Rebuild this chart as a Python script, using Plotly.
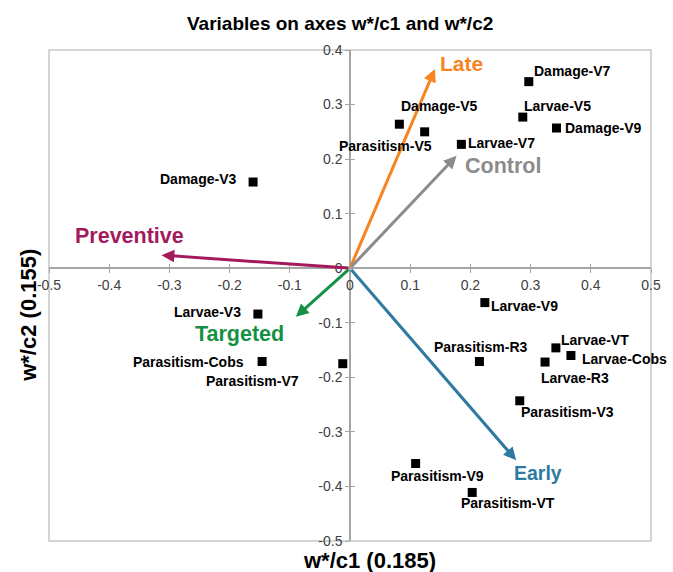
import plotly.graph_objects as go

# Variable coordinates on the first two axes
var_names = [
    "Damage-V3", "Damage-V5", "Parasitism-V5", "Larvae-V7", "Damage-V7",
    "Larvae-V5", "Damage-V9", "Larvae-V3", "Parasitism-Cobs", "Parasitism-V7",
    "Larvae-V9", "Parasitism-R3", "Larvae-VT", "Larvae-Cobs", "Larvae-R3",
    "Parasitism-V3", "Parasitism-V9", "Parasitism-VT",
]
var_c1 = [-0.161, 0.124, 0.082, 0.185, 0.297, 0.287, 0.343, -0.153, -0.146, -0.012,
          0.224, 0.215, 0.342, 0.367, 0.324, 0.282, 0.109, 0.203]
var_c2 = [0.158, 0.250, 0.264, 0.227, 0.342, 0.277, 0.257, -0.084, -0.171, -0.175,
          -0.063, -0.171, -0.146, -0.160, -0.172, -0.243, -0.358, -0.411]

# Label placement (pixel shift of label centre from its marker)
label_dx = [-55, 14, -14, 40, 43, 35, 47, -50, -74, -90, 40, 2, 39, 54, 30, 48, 22, 36]
label_dy = [3, 26, -22, 1, 11, 11, 0, 2, 0, -17, -3, 15, 8, -3, -16, -11, -12, -11]

# Supplementary factor vectors
factor_names = ["Preventive", "Late", "Control", "Targeted", "Early"]
factor_c1 = [-0.313, 0.141, 0.177, -0.090, 0.276]
factor_c2 = [0.024, 0.365, 0.206, -0.089, -0.352]
factor_colors = ["#A3195B", "#F7841F", "#8C8C8C", "#149145", "#2E7AA0"]
factor_dx = [-32, 27, 46, -56, 22]
factor_dy = [19, 6, -10, -17, -13]
factor_sizes = [21.5, 21, 21.5, 21.5, 19.5]

tick_vals = [-0.5, -0.4, -0.3, -0.2, -0.1, 0, 0.1, 0.2, 0.3, 0.4, 0.5]
x_range = [-0.5, 0.5]
y_range = [-0.5, 0.4]

FONT = "Arial, Liberation Sans, sans-serif"
AXIS_GRAY = "#A6A6A6"
TICK_TEXT = "#404040"

fig = go.Figure()

fig.add_trace(go.Scatter(
    x=var_c1, y=var_c2, mode="markers",
    marker=dict(symbol="square", size=9, color="black"),
    hoverinfo="text", text=var_names, showlegend=False,
))
# empty trace so the overlay axes (inner half of the crossing ticks) are drawn
fig.add_trace(go.Scatter(x=[], y=[], xaxis="x2", yaxis="y2", showlegend=False, hoverinfo="skip"))

# where the zero lines fall within the plot domain
x_zero_pos = (0 - x_range[0]) / (x_range[1] - x_range[0])
y_zero_pos = (0 - y_range[0]) / (y_range[1] - y_range[0])

common_x = dict(range=x_range, tickmode="array", tickvals=tick_vals,
                showgrid=False, zeroline=False, anchor="free", position=y_zero_pos,
                ticklen=4, tickcolor=AXIS_GRAY, tickwidth=1.3)
common_y = dict(range=y_range, tickmode="array", tickvals=tick_vals[:-1],
                showgrid=False, zeroline=False, anchor="free", position=x_zero_pos,
                ticklen=4, tickcolor=AXIS_GRAY, tickwidth=1.3)

fig.update_layout(
    width=673, height=572, autosize=False,
    margin=dict(l=49, r=17, t=50, b=31),
    paper_bgcolor="white", plot_bgcolor="white",
    font=dict(family=FONT, color="black"),
    xaxis=dict(**common_x, ticks="outside", showline=True, linecolor=AXIS_GRAY, linewidth=1.5,
               ticktext=["-0.5", "-0.4", "-0.3", "-0.2", "-0.1", "0", "0.1", "0.2", "0.3", "0.4", "0.5"],
               tickfont=dict(size=14, color=TICK_TEXT, family=FONT)),
    yaxis=dict(**common_y, ticks="outside", showline=True, linecolor=AXIS_GRAY, linewidth=1.5,
               ticktext=["-0.5", "-0.4", "-0.3", "-0.2", "-0.1", "0", "0.1", "0.2", "0.3", "0.4"],
               tickfont=dict(size=14, color=TICK_TEXT, family=FONT)),
    xaxis2=dict(**common_x, overlaying="x", ticks="inside", showticklabels=False, showline=False),
    yaxis2=dict(**common_y, overlaying="y", ticks="inside", showticklabels=False, showline=False),
    shapes=[dict(type="rect", xref="paper", yref="paper", x0=0, x1=1, y0=0, y1=1,
                 line=dict(color="#C8C8C8", width=1.5), layer="below")],
)

annotations = []

# factor arrows from the origin and their labels
for name, fx, fy, col, dx, dy, fs in zip(factor_names, factor_c1, factor_c2, factor_colors,
                                         factor_dx, factor_dy, factor_sizes):
    annotations.append(dict(
        x=fx, y=fy, ax=0, ay=0, xref="x", yref="y", axref="x", ayref="y",
        text="", showarrow=True, arrowhead=2, arrowsize=0.85, arrowwidth=3,
        arrowcolor=col, standoff=0, startstandoff=0,
    ))
    annotations.append(dict(
        x=fx, y=fy, xref="x", yref="y", text=f"<b>{name}</b>", showarrow=False,
        xshift=dx, yshift=dy, xanchor="center", yanchor="middle",
        font=dict(size=fs, color=col, family=FONT),
    ))

# variable labels
for name, vx, vy, dx, dy in zip(var_names, var_c1, var_c2, label_dx, label_dy):
    annotations.append(dict(
        x=vx, y=vy, xref="x", yref="y", text=f"<b>{name}</b>", showarrow=False,
        xshift=dx, yshift=dy, xanchor="center", yanchor="middle",
        font=dict(size=14, color="black", family=FONT),
    ))

# title and axis titles
annotations.append(dict(
    x=0.4835, y=1.053, xref="paper", yref="paper", text="<b>Variables on axes w*/c1 and w*/c2</b>",
    showarrow=False, xanchor="center", yanchor="middle", font=dict(size=19, family=FONT),
))
annotations.append(dict(
    x=0.532, y=-0.039, xref="paper", yref="paper", text="<b>w*/c1 (0.185)</b>",
    showarrow=False, xanchor="center", yanchor="middle", font=dict(size=22, family=FONT),
))
annotations.append(dict(
    x=-0.0346, y=0.459, xref="paper", yref="paper", text="<b>w*/c2 (0.155)</b>",
    showarrow=False, xanchor="center", yanchor="middle", textangle=-90,
    font=dict(size=22, family=FONT),
))

fig.update_layout(annotations=annotations)

fig.write_html("out.html")
